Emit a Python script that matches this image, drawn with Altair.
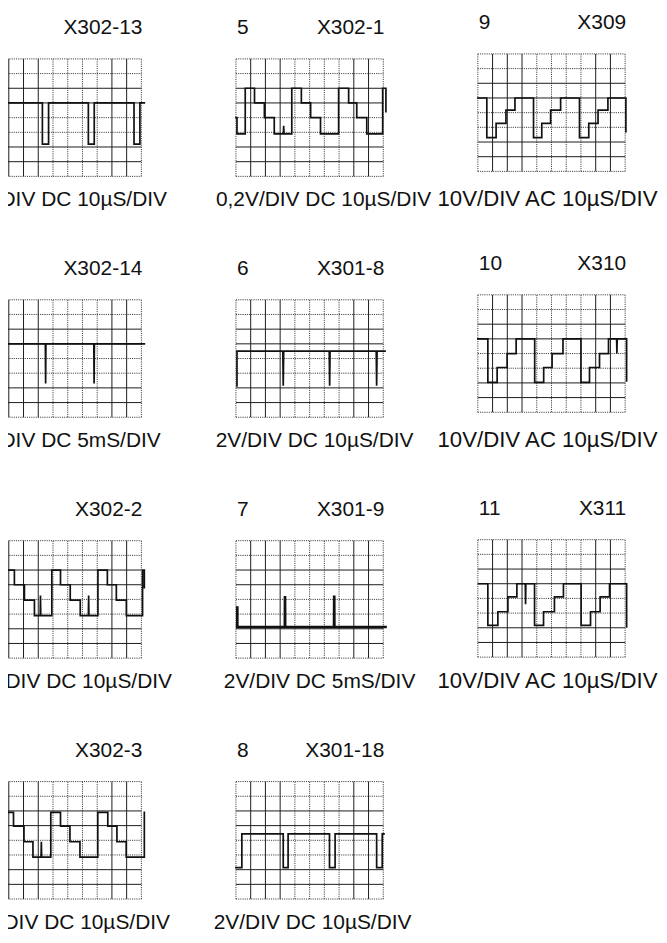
import altair as alt
import pandas as pd

FONT = "Liberation Sans"

# ---------------- labels ----------------
panel_numbers = ["1", "5", "9", "2", "6", "10", "3", "7", "11", "4", "8"]
panel_ids = ["X302-13", "X302-1", "X309", "X302-14", "X301-8", "X310",
             "X302-2", "X301-9", "X311", "X302-3", "X301-18"]
panel_captions = [
    "0,2V/DIV DC 10µS/DIV", "0,2V/DIV DC 10µS/DIV", "10V/DIV AC 10µS/DIV",
    "0,2V/DIV DC 5mS/DIV", "2V/DIV DC 10µS/DIV", "10V/DIV AC 10µS/DIV",
    "0,2V/DIV DC 10µS/DIV", "2V/DIV DC 5mS/DIV", "10V/DIV AC 10µS/DIV",
    "0,2V/DIV DC 10µS/DIV", "2V/DIV DC 10µS/DIV",
]

# ---------------- graticule (divisions) ----------------
grid_x = [0, 1, 2, 3, 4, 5, 6, 7, 8, 9, 10]
grid_y = [0, 1, 2, 3, 4, 5, 6, 7, 8]
solid_x = [1, 2, 3, 8, 9]
solid_y = [1, 2, 5, 6]

# ---------------- traces (time div, volt div) ----------------
t1 = [0, 0.15, 0.15, 0.55, 0.55, 3.28, 3.28, 3.7, 3.7, 6.4, 6.4, 6.8, 6.8, 9.5, 9.5, 9.9, 9.9, 10.2]
v1 = [5, 5, 2.2, 2.2, 5, 5, 2.2, 2.2, 5, 5, 2.2, 2.2, 5, 5, 2.2, 2.2, 5, 5]

t5 = [0, 0.07, 0.07, 0.63, 0.63, 1.26, 1.26, 1.93, 1.93, 2.6, 2.6, 3.22, 3.24, 3.26,
      3.79, 3.79, 4.44, 4.44, 5.07, 5.07, 5.74, 5.74, 6.97, 6.97, 7.65, 7.65, 8.2, 8.2,
      8.88, 8.88, 9.96, 9.96, 10.18, 10.18]
v5 = [4, 4, 2.9, 2.9, 6, 6, 5, 5, 4, 4, 2.9, 2.9, 3.45, 2.9,
      2.9, 6, 6, 5, 5, 4, 4, 2.9, 2.9, 6, 6, 5, 5, 4,
      4, 2.9, 2.9, 6, 6, 4.4]

t9 = [0, 0.61, 0.61, 1.24, 1.24, 1.91, 1.91, 2.52, 2.52, 3.78, 3.78, 4.34, 4.34, 4.94,
      4.94, 5.62, 5.62, 6.9, 6.9, 7.53, 7.53, 8.16, 8.16, 8.83, 8.83, 10.05, 10.05]
v9 = [5, 5, 2.3, 2.3, 3.27, 3.27, 4.17, 4.17, 5, 5, 2.3, 2.3, 3.27, 3.27,
      4.17, 4.17, 5, 5, 2.3, 2.3, 3.27, 3.27, 4.17, 4.17, 5, 5, 2.7]

t2 = [0, 3.48, 3.5, 3.52, 6.77, 6.79, 6.81, 10.2]
v2 = [5, 5, 2.3, 5, 5, 2.3, 5, 5]

t6 = [0.07, 0.07, 3.18, 3.21, 3.24, 6.33, 6.36, 6.39, 9.52, 9.55, 9.58, 10.12]
v6 = [2.14, 4.51, 4.51, 2.14, 4.51, 4.51, 2.14, 4.51, 4.51, 2.14, 4.51, 4.51]

t10 = [0, 0.68, 0.68, 1.31, 1.31, 1.99, 1.99, 2.6, 2.6, 3.86, 3.86, 4.47, 4.47, 5.04,
       5.04, 5.78, 5.78, 7.0, 7.0, 7.58, 7.58, 8.26, 8.26, 8.87, 8.87, 9.42, 9.44, 9.46,
       10.1, 10.1]
v10 = [5, 5, 2.03, 2.03, 3.05, 3.05, 4.0, 4.0, 5, 5, 2.03, 2.03, 3.05, 3.05,
       4.0, 4.0, 5, 5, 2.03, 2.03, 3.05, 3.05, 4.0, 4.0, 5, 5, 4.0, 5,
       5, 2.14]

t3 = [0, 0.79, 0.79, 1.38, 1.38, 2.06, 2.06, 2.74, 2.74, 3.13, 3.15, 3.17, 3.92, 3.92,
      4.51, 4.51, 5.17, 5.17, 5.85, 5.85, 6.4, 6.42, 6.44, 7.05, 7.05, 7.69, 7.69, 8.3,
      8.3, 8.98, 8.98, 10.08, 10.08, 10.2, 10.2]
v3 = [2.9, 2.9, 6, 6, 5, 5, 3.95, 3.95, 2.9, 2.9, 4.26, 2.9, 2.9, 6,
      6, 5, 5, 3.95, 3.95, 2.9, 2.9, 4.26, 2.9, 2.9, 6, 6, 5, 5,
      3.95, 3.95, 2.9, 2.9, 6, 6, 4.8]

t7 = [0.09, 0.09, 3.32, 3.33, 3.34, 6.66, 6.67, 6.68, 10.15]
v7 = [3.44, 2.12, 2.12, 4.23, 2.12, 2.12, 4.27, 2.12, 2.12]

t11 = [0.05, 0.68, 0.68, 1.36, 1.36, 2.04, 2.04, 2.65, 2.65, 3.22, 3.24, 3.26, 3.85, 3.85,
       4.46, 4.46, 5.2, 5.2, 5.81, 5.81, 7.01, 7.01, 7.65, 7.65, 8.3, 8.3, 8.94, 8.94,
       10.1, 10.1]
v11 = [5, 5, 2.17, 2.17, 3.09, 3.09, 4.11, 4.11, 5, 5, 3.6, 5, 5, 2.17,
       2.17, 3.09, 3.09, 4.11, 4.11, 5, 5, 2.17, 2.17, 3.09, 3.09, 4.11, 4.11, 5,
       5, 2.06]

t4 = [0, 0.71, 0.71, 1.32, 1.32, 2.03, 2.03, 2.64, 2.64, 3.19, 3.21, 3.23, 3.85, 3.85,
      4.51, 4.51, 5.15, 5.15, 5.83, 5.83, 7.04, 7.04, 7.72, 7.72, 8.34, 8.34, 8.97, 8.97,
      10.2, 10.2]
v4 = [2.86, 2.86, 5.9, 5.9, 4.96, 4.96, 3.9, 3.9, 2.86, 2.86, 3.9, 2.86, 2.86, 5.9,
      5.9, 4.96, 4.96, 3.9, 3.9, 2.86, 2.86, 5.9, 5.9, 4.96, 4.96, 3.9, 3.9, 2.86,
      2.86, 5.9]

t8 = [0, 0.4, 0.4, 3.21, 3.21, 3.54, 3.54, 6.35, 6.35, 6.73, 6.73, 9.55, 9.55, 9.93, 9.93, 10.05]
v8 = [2.14, 2.14, 4.44, 4.44, 2.14, 2.14, 4.44, 4.44, 2.14, 2.14, 4.44, 4.44, 2.14, 2.14, 4.44, 4.44]

trace_t = [t1, t5, t9, t2, t6, t10, t3, t7, t11, t4, t8]
trace_v = [v1, v5, v9, v2, v6, v10, v3, v7, v11, v4, v8]

# ---------------- layout / style ----------------
W, H = 148, 118
DIV = H / 8.0
FS = 21
trace_width = [1.7, 1.7, 1.7, 1.7, 1.7, 1.7, 1.7, 2.7, 1.7, 1.7, 1.7]
shift_up = [0, 0, 5, 0, 0, 5, 0, 0, 1, 0, 0]
caption_x = [-42.5, 88, 70, -42.5, 79, 70, -37.5, 84, 70, -39.5, 77]
caption_align = ["left", "center", "center"] * 4
caption_size = [21, 21, 22.3] * 4


def make_panel(k):
    s = shift_up[k]
    a = -s / DIV
    xs = alt.Scale(domain=[0, 10], nice=False, zero=False)
    ys = alt.Scale(domain=[a, a + 8], nice=False, zero=False)

    dotted_vx = pd.DataFrame({"gx": [g for g in grid_x if g not in solid_x]})
    solid_vx = pd.DataFrame({"gx": solid_x})
    dotted_hy = pd.DataFrame({"gy": [g for g in grid_y if g not in solid_y]})
    solid_hy = pd.DataFrame({"gy": solid_y})

    def vrules(df, **style):
        return alt.Chart(df).mark_rule(**style).encode(
            x=alt.X("gx:Q", scale=xs, axis=None),
            y=alt.YDatum(0, scale=ys, axis=None),
            y2=alt.Y2Datum(8),
        )

    def hrules(df, **style):
        return alt.Chart(df).mark_rule(**style).encode(
            y=alt.Y("gy:Q", scale=ys, axis=None),
            x=alt.XDatum(0, scale=xs, axis=None),
            x2=alt.X2Datum(10),
        )

    dot = dict(color="#262626", strokeWidth=0.9, strokeDash=[1.1, 1.1])
    sol = dict(color="#1c1c1c", strokeWidth=1.0)

    trace_df = pd.DataFrame({"t": trace_t[k], "v": trace_v[k],
                             "i": list(range(len(trace_t[k])))})
    trace = alt.Chart(trace_df).mark_line(
        color="#111111", strokeWidth=trace_width[k], strokeJoin="miter",
        strokeCap="square"
    ).encode(
        x=alt.X("t:Q", scale=xs, axis=None),
        y=alt.Y("v:Q", scale=ys, axis=None),
        order="i:Q",
    )

    txt = dict(font=FONT, color="#111111", baseline="alphabetic")
    num = alt.Chart(pd.DataFrame({"s": [panel_numbers[k]]})).mark_text(
        align="left", fontSize=FS, **txt).encode(
        x=alt.value(1), y=alt.value(-25 - s), text="s:N")
    pid = alt.Chart(pd.DataFrame({"s": [panel_ids[k]]})).mark_text(
        align="right", fontSize=FS, **txt).encode(
        x=alt.value(W + 1), y=alt.value(-25 - s), text="s:N")
    cap = alt.Chart(pd.DataFrame({"s": [panel_captions[k]]})).mark_text(
        align=caption_align[k], fontSize=caption_size[k], **txt).encode(
        x=alt.value(caption_x[k]), y=alt.value(H + 30), text="s:N")

    return alt.layer(
        vrules(dotted_vx, **dot), hrules(dotted_hy, **dot),
        vrules(solid_vx, **sol), hrules(solid_hy, **sol),
        trace, num, pid, cap,
    ).properties(width=W, height=H)


panels = [make_panel(k) for k in range(len(panel_ids))]

chart = alt.concat(
    *panels, columns=3, spacing={"row": 124, "column": 95}, bounds="flush"
).properties(
    padding={"left": -57, "top": 2, "right": 0, "bottom": 0},
    background="white",
).configure_view(strokeWidth=0).configure_axis(disable=True)

chart.save("out.html", embed_options={"renderer": "svg", "actions": False})
